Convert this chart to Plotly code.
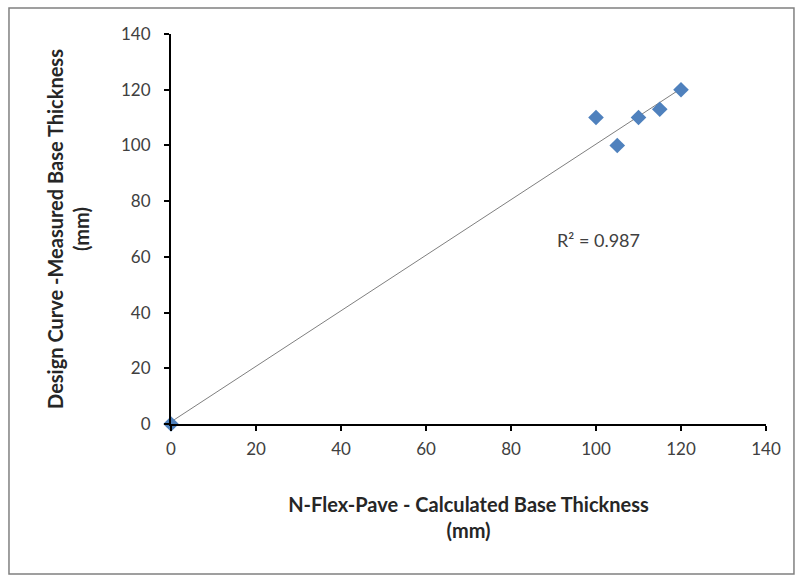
import numpy as np
import plotly.graph_objects as go

calc_thickness = [0, 100, 105, 110, 115, 120]
measured_thickness = [0, 110, 100, 110, 113, 120]
tick_vals = [0, 20, 40, 60, 80, 100, 120, 140]
r2_label = "R² = 0.987"

x = np.array(calc_thickness, dtype=float)
y = np.array(measured_thickness, dtype=float)
slope, intercept = np.polyfit(x, y, 1)
xl = np.array([x.min(), x.max()])
yl = slope * xl + intercept

fig = go.Figure()
fig.add_trace(go.Scatter(x=xl, y=yl, mode="lines",
                         line=dict(color="#7f7f7f", width=1),
                         hoverinfo="skip", showlegend=False, cliponaxis=False))
fig.add_trace(go.Scatter(x=calc_thickness, y=measured_thickness, mode="markers",
                         marker=dict(symbol="diamond", size=12, color="#4F81BD",
                                     line=dict(width=0)),
                         showlegend=False, cliponaxis=False))

fig.add_annotation(x=100.5, y=66, xref="x", yref="y", text=r2_label, showarrow=False,
                   xanchor="center", yanchor="middle",
                   font=dict(family="Lato", size=18, color="#404040"))

# outer chart border
fig.add_shape(type="rect", xref="paper", yref="paper",
              x0=-0.2723, x1=1.047, y0=-0.3846, y1=1.0667,
              line=dict(color="#808080", width=1.5))

axis_common = dict(
    range=[0, 140], tickvals=tick_vals, showgrid=False, zeroline=False,
    showline=True, linecolor="black", linewidth=2,
    ticks="outside", ticklen=5, tickwidth=2, tickcolor="black",
    tickfont=dict(family="Lato", size=17, color="#404040"),
)
fig.update_xaxes(**axis_common, ticklabelstandoff=4,
                 title=dict(text="<b>N-Flex-Pave - Calculated Base Thickness<br>(mm)</b>",
                            font=dict(family="Lato", size=20, color="#262626"),
                            standoff=40))
fig.update_yaxes(**axis_common, ticklabelstandoff=10,
                 title=dict(text="<b>Design Curve -Measured Base Thickness<br>(mm)</b>",
                            font=dict(family="Lato", size=20, color="#262626"),
                            standoff=26))

fig.update_layout(width=796, height=576,
                  margin=dict(l=171, r=30, t=34, b=152),
                  plot_bgcolor="white", paper_bgcolor="white")

fig.write_html("out.html")
